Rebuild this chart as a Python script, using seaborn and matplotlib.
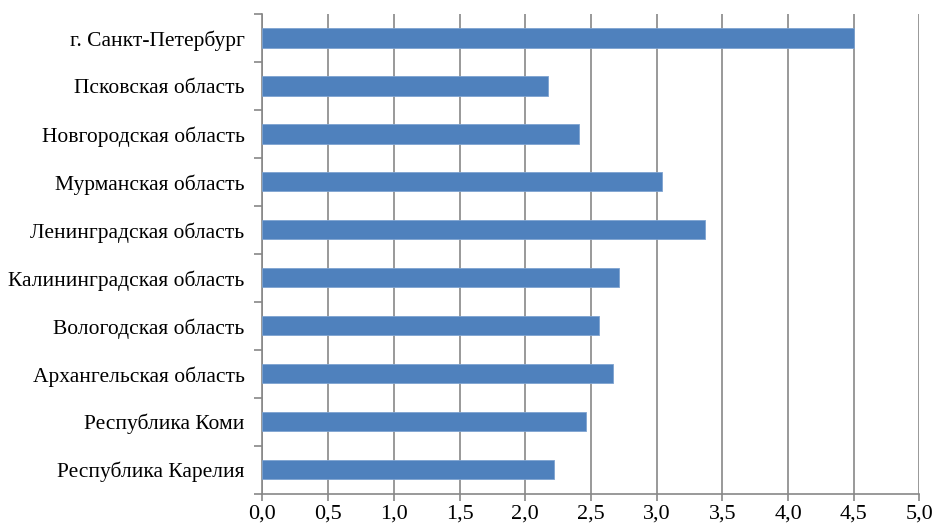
import matplotlib
matplotlib.use("Agg")
import matplotlib.pyplot as plt
import seaborn as sns
import pandas as pd
import numpy as np
from matplotlib.ticker import FixedLocator, FuncFormatter

regions = ["г. Санкт-Петербург", "Псковская область", "Новгородская область",
           "Мурманская область", "Ленинградская область", "Калининградская область",
           "Вологодская область", "Архангельская область", "Республика Коми",
           "Республика Карелия"]
values = [4.50, 2.17, 2.41, 3.04, 3.37, 2.71, 2.56, 2.67, 2.46, 2.22]
x_ticks = [0.0, 0.5, 1.0, 1.5, 2.0, 2.5, 3.0, 3.5, 4.0, 4.5, 5.0]

sns.set_theme(style="white")
plt.rcParams['font.family'] = ['Liberation Serif', 'DejaVu Serif']

df = pd.DataFrame({"region": regions, "value": values})

fig = plt.figure(figsize=(9.33, 5.28), dpi=100)
ax = fig.add_axes([0.2813, 0.065, 0.9855 - 0.2813, 0.9735 - 0.065])

sns.barplot(data=df, y="region", x="value", orient="h", color="#4F81BD",
            saturation=1, width=0.4, edgecolor="#7EA3D0", linewidth=0.6, ax=ax, zorder=3)

ax.set_xlim(0, 5)
ax.set_ylim(len(regions) - 0.5, -0.5)
ax.set_xlabel("")
ax.set_ylabel("")

ax.xaxis.set_major_locator(FixedLocator(x_ticks))
ax.xaxis.set_major_formatter(FuncFormatter(lambda v, p: f"{v:.1f}".replace(".", ",")))
ax.grid(axis="x", color="#878787", linewidth=1.2, zorder=0)
ax.grid(axis="y", visible=False)

# y ticks: labels at centres, tick marks at boundaries
ax.yaxis.set_minor_locator(FixedLocator(np.arange(-0.5, len(regions), 1.0)))
ax.tick_params(axis="y", which="major", length=0, pad=13, labelsize=15.5, labelcolor="black")
ax.tick_params(axis="y", which="minor", length=6, width=1.2, color="#878787", left=True)
ax.tick_params(axis="x", which="major", length=5, width=1.2, color="#878787",
               bottom=True, pad=3, labelsize=16, labelcolor="black")

for s in ["top", "right"]:
    ax.spines[s].set_visible(False)
for s in ["left", "bottom"]:
    ax.spines[s].set_color("#878787")
    ax.spines[s].set_linewidth(1.2)

fig.savefig("out.png", dpi=100)
